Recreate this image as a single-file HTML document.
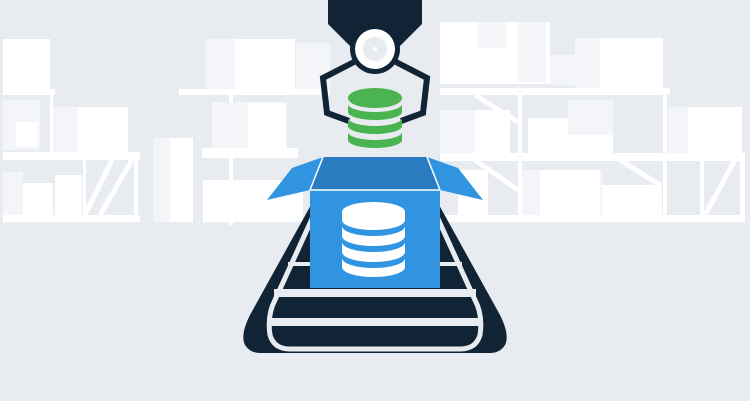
<!DOCTYPE html>
<html><head><style>html,body{margin:0;padding:0;background:#e8ebf0}svg{display:block}</style></head>
<body>
<svg width="750" height="401" viewBox="0 0 750 401" xmlns="http://www.w3.org/2000/svg">
<rect width="750" height="401" fill="#e8ebf0"/>
<g fill="#fff">
 <rect x="3" y="39" width="47" height="51"/>
 <rect x="3" y="89" width="52" height="6"/>
 <rect x="50" y="95" width="3" height="65"/>
 <rect x="3" y="100" width="37" height="50" fill="#f3f5f8"/>
 <rect x="16" y="122" width="22" height="25"/>
 <rect x="53" y="107" width="75" height="46"/>
 <rect x="53" y="107" width="24" height="46" fill="#f3f5f8"/>
 <rect x="3" y="152" width="137" height="8"/>
 <rect x="3" y="172" width="20" height="45" fill="#f3f5f8"/>
 <rect x="23" y="183" width="30" height="35"/>
 <rect x="55" y="175" width="27" height="42"/>
 <rect x="3" y="215" width="137" height="7"/>
 <rect x="83" y="158" width="3" height="60"/><rect x="134" y="158" width="4" height="60"/>
 <rect x="205" y="39" width="90" height="51"/>
 <rect x="205" y="39" width="30" height="51" fill="#f3f5f8"/>
 <rect x="296" y="43" width="34" height="46" fill="#f3f5f8"/>
 <rect x="179" y="89" width="151" height="6"/>
 <rect x="229" y="95" width="4" height="130"/>
 <rect x="212" y="102" width="75" height="48" fill="#f3f5f8"/>
 <rect x="248" y="103" width="38" height="47"/>
 <rect x="202" y="148" width="96" height="10"/>
 <rect x="153" y="138" width="40" height="84"/>
 <rect x="153" y="138" width="17" height="84" fill="#f3f5f8"/>
 <rect x="203" y="180" width="100" height="42"/>
 <rect x="440" y="22" width="110" height="62"/>
 <rect x="478" y="22" width="28" height="26" fill="#f3f5f8"/>
 <rect x="518" y="22" width="28" height="60" fill="#f3f5f8"/>
 <rect x="550" y="55" width="25" height="30" fill="#f3f5f8"/>
 <rect x="575" y="38" width="88" height="50"/>
 <rect x="575" y="38" width="25" height="50" fill="#f3f5f8"/>
 <rect x="440" y="88" width="230" height="7"/>
 <rect x="518" y="95" width="4" height="127"/><rect x="663" y="95" width="4" height="127"/>
 <rect x="440" y="110" width="50" height="43" fill="#f3f5f8"/>
 <rect x="475" y="110" width="35" height="43"/>
 <rect x="528" y="118" width="85" height="35"/>
 <rect x="568" y="100" width="45" height="35" fill="#f3f5f8"/>
 <rect x="668" y="107" width="74" height="46"/>
 <rect x="668" y="107" width="20" height="46" fill="#f3f5f8"/>
 <rect x="440" y="153" width="305" height="8"/>
 <rect x="458" y="170" width="30" height="45"/>
 <rect x="522" y="170" width="80" height="45" fill="#f3f5f8"/>
 <rect x="540" y="170" width="60" height="45"/>
 <rect x="602" y="185" width="60" height="30"/>
 <rect x="440" y="215" width="305" height="7"/>
 <rect x="700" y="158" width="4" height="60"/><rect x="740" y="158" width="5" height="60"/>
</g>
<g stroke="#fff" stroke-width="5" fill="none">
 <line x1="85" y1="215" x2="112" y2="160"/><line x1="100" y1="215" x2="132" y2="160"/>
 <line x1="210" y1="218" x2="225" y2="188"/><line x1="240" y1="218" x2="255" y2="188"/><line x1="275" y1="218" x2="290" y2="188"/>
 <line x1="705" y1="215" x2="735" y2="160"/><line x1="475" y1="95" x2="518" y2="122"/><line x1="475" y1="160" x2="518" y2="190"/>
 <line x1="620" y1="160" x2="660" y2="185"/>
</g>
<path d="M322,185 L428,185 L500,315 Q510,335 505,345 Q500,353 490,353 L260,353 Q250,353 245,345 Q240,335 250,315 Z" fill="#112436"/>
<path d="M327,186 L275,300 Q267,315 270,335 Q274,349 290,349 L460,349 Q476,349 480,335 Q483,315 475,300 L423,186" fill="none" stroke="#e8ebf0" stroke-width="5"/>
<rect x="288" y="262" width="174" height="4" fill="#e8ebf0"/>
<rect x="274" y="289" width="202" height="8" fill="#e8ebf0"/>
<rect x="268" y="318" width="214" height="8" fill="#e8ebf0"/>
<polygon points="323,157 427,157 440,190 310,190" fill="#2a7bc0"/>
<polygon points="323,157 310,190 267,200 292,168" fill="#3094e0"/>
<polygon points="427,157 440,190 483,200 458,168" fill="#3094e0"/>
<line x1="323" y1="157" x2="310" y2="190" stroke="#fff" stroke-width="1.5"/>
<line x1="427" y1="157" x2="440" y2="190" stroke="#fff" stroke-width="1.5"/>
<rect x="310" y="190" width="130" height="98" fill="#3094e0"/>
<line x1="310" y1="190" x2="440" y2="190" stroke="#fff" stroke-width="1.5"/>
<g fill="#fff">
 <path d="M342,212 a31.5,10 0 0 1 63,0 v8 a31.5,10 0 0 1 -63,0 z"/>
 <path d="M342,226 a31.5,10 0 0 0 63,0 v10 a31.5,10 0 0 1 -63,0 z"/>
 <path d="M342,242 a31.5,10 0 0 0 63,0 v10 a31.5,10 0 0 1 -63,0 z"/>
 <path d="M342,258 a31.5,10 0 0 0 63,0 v9 a31.5,10 0 0 1 -63,0 z"/>
</g>
<path d="M328,0 H422 V24 L400,46 H350 L328,24 Z" fill="#112436"/>
<g stroke="#112436" stroke-width="6" fill="none">
 <polyline points="354,62 323,78 327,113 349,121"/>
 <polyline points="396,62 427,78 423,113 401,121"/>
</g>
<circle cx="375" cy="49" r="25" fill="#112436"/>
<circle cx="375" cy="49" r="20" fill="#fff"/>
<circle cx="375" cy="49" r="12" fill="#e8ebf0"/>
<circle cx="375" cy="49" r="2" fill="#fff"/>
<g fill="#4bb34f">
 <ellipse cx="375" cy="98" rx="27" ry="10"/>
 <path d="M348,104 a27,8 0 0 0 54,0 v8 a27,8 0 0 1 -54,0 z"/>
 <path d="M348,118 a27,8 0 0 0 54,0 v8 a27,8 0 0 1 -54,0 z"/>
 <path d="M348,132 a27,8 0 0 0 54,0 v8 a27,8 0 0 1 -54,0 z"/>
</g>
</svg>
</body></html>
